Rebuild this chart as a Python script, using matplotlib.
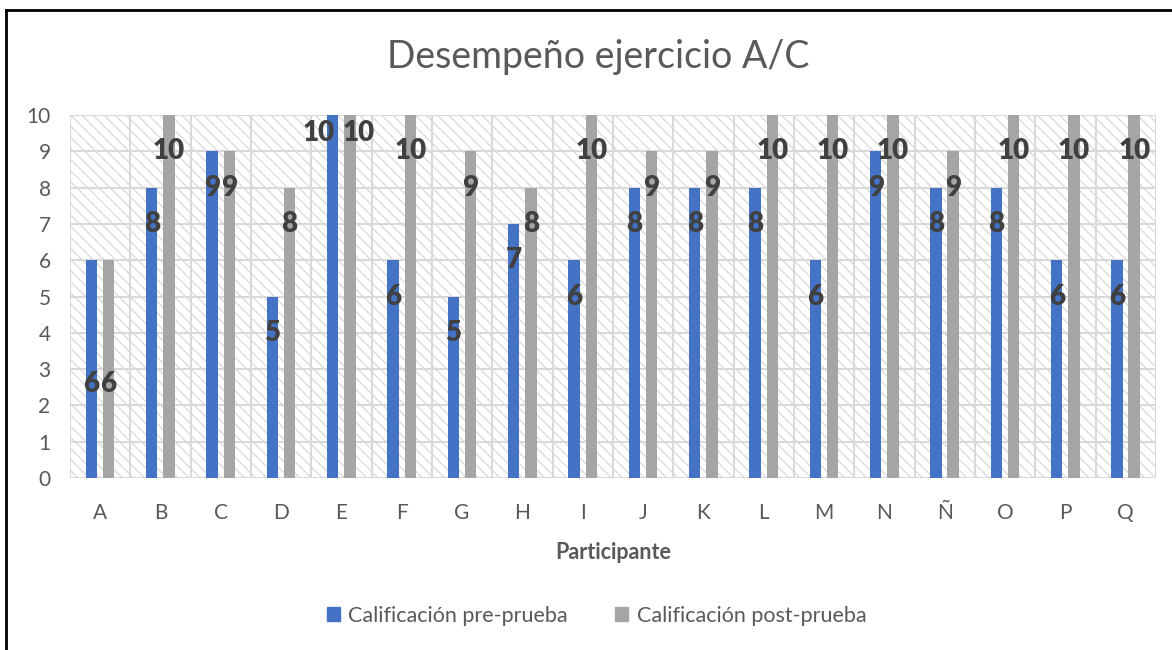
import matplotlib.pyplot as plt
from matplotlib.patches import Rectangle
from matplotlib.lines import Line2D
import numpy as np

plt.rcParams['font.family'] = ['Lato', 'DejaVu Sans']
plt.rcParams['hatch.linewidth'] = 0.9

# Datos
participantes = ['A', 'B', 'C', 'D', 'E', 'F', 'G', 'H', 'I',
                 'J', 'K', 'L', 'M', 'N', 'Ñ', 'O', 'P', 'Q']
pre_prueba = [6, 8, 9, 5, 10, 6, 5, 7, 6, 8, 8, 8, 6, 9, 8, 8, 6, 6]
post_prueba = [6, 10, 9, 8, 10, 10, 9, 8, 10, 9, 9, 10, 10, 10, 9, 10, 10, 10]

azul = '#4472C4'
gris = '#A5A5A5'
texto = '#595959'

fig = plt.figure(figsize=(11.72, 6.5), dpi=100)
ax = fig.add_axes([0.0597, 0.2646, 0.9266, 0.5584])

x = np.arange(len(participantes))
ancho = 0.19
ax.bar(x - 0.145, pre_prueba, ancho, color=azul, zorder=3)
ax.bar(x + 0.14, post_prueba, ancho, color=gris, zorder=3)

# Fondo rayado del área de trazado
ax.add_patch(Rectangle((0, 0), 1, 1, transform=ax.transAxes, facecolor='white',
                       edgecolor='#D9D9D9', hatch='\\\\\\', linewidth=0, zorder=0))

ax.set_xlim(-0.5, len(participantes) - 0.5)
ax.set_ylim(0, 10)
ax.set_yticks(range(0, 11))
ax.set_xticks(x)
ax.set_xticklabels(participantes)

# Cuadrícula horizontal y vertical
for y in range(0, 11):
    ax.axhline(y, color='#D9D9D9', lw=1.5, zorder=1)
for xb in np.arange(-0.5, len(participantes), 1.0):
    ax.axvline(xb, color='#D9D9D9', lw=1.5, zorder=1)

for s in ax.spines.values():
    s.set_visible(False)
ax.tick_params(length=0, colors=texto, labelsize=15)
ax.tick_params(axis='y', pad=14)
ax.tick_params(axis='x', pad=18)

# Etiquetas de datos (extremo interior)
ajuste_pre = {0: (0, -2.4), 4: (-10, 0.5)}
ajuste_post = {0: (0, -2.4), 4: (6, 0.5)}
for i in range(len(participantes)):
    dx, dy = ajuste_pre.get(i, (0, 0))
    ax.annotate(str(pre_prueba[i]), (x[i] - 0.145, pre_prueba[i] - 1 + dy),
                xytext=(dx, 0), textcoords='offset points', ha='center', va='center',
                fontsize=20, fontweight='heavy', color='#404040', zorder=5)
    dx, dy = ajuste_post.get(i, (0, 0))
    ax.annotate(str(post_prueba[i]), (x[i] + 0.14, post_prueba[i] - 1 + dy),
                xytext=(dx, 0), textcoords='offset points', ha='center', va='center',
                fontsize=20, fontweight='heavy', color='#404040', zorder=5)

ax.set_xlabel('Participante', fontsize=15.5, fontweight='bold', color=texto, labelpad=14)
fig.text(0.51, 0.912, 'Desempeño ejercicio A/C', ha='center', va='center',
         fontsize=27, color=texto)

handles = [Rectangle((0, 0), 1, 1, color=azul), Rectangle((0, 0), 1, 1, color=gris)]
fig.legend(handles, ['Calificación pre-prueba', 'Calificación post-prueba'],
           loc='center', bbox_to_anchor=(0.509, 0.053), ncol=2, frameon=False,
           fontsize=15.5, handlelength=0.6, handleheight=0.6, columnspacing=2.2,
           handletextpad=0.4, labelcolor=texto)

# Borde del gráfico (solo izquierda y arriba visibles)
fig.add_artist(Line2D([0.0055, 0.0055], [0, 0.985], color='black', lw=2, transform=fig.transFigure))
fig.add_artist(Line2D([0.0055, 1], [0.985, 0.985], color='black', lw=2, transform=fig.transFigure))

fig.savefig('out.png', dpi=100)
